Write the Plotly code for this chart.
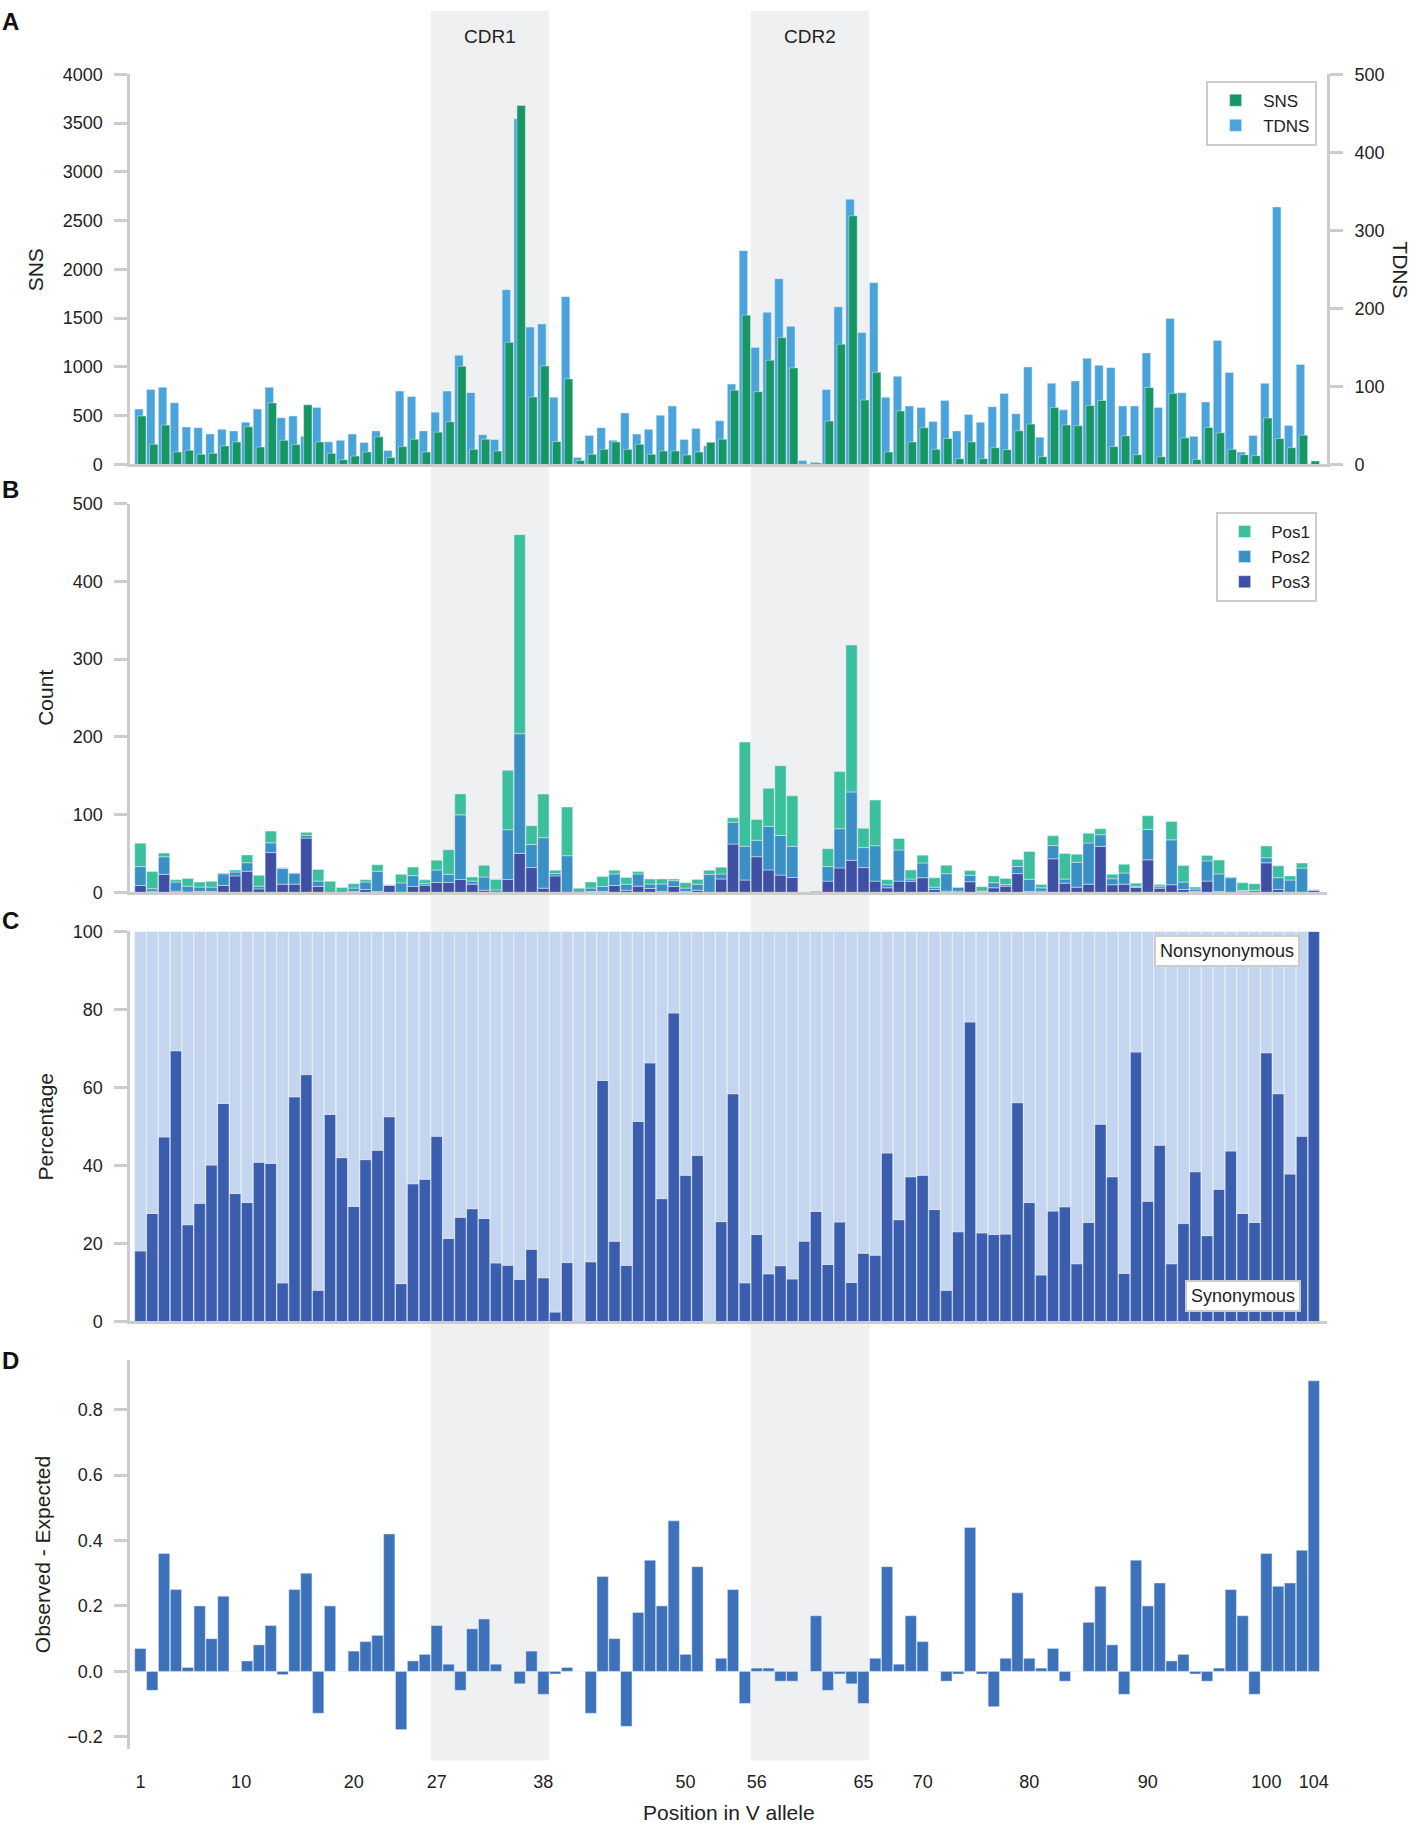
import numpy as np
import plotly.graph_objects as go

# IMGT positions present in the allele (gaps at 10, 32, 33 and 73)
imgt = list(range(1, 10)) + list(range(11, 32)) + list(range(34, 73)) + list(range(74, 105))

# panel A
sns = [497, 207, 404, 128, 145, 104, 114, 190, 231, 386,
       179, 631, 248, 204, 611, 231, 114, 48, 86, 128,
       283, 72, 183, 259, 128, 331, 438, 1007, 155, 259,
       138, 1252, 3680, 692, 1010, 235, 877, 41, 104, 155,
       231, 155, 207, 104, 138, 138, 97, 128, 228, 259,
       762, 1531, 746, 1069, 1301, 990, 0, 14, 445, 1233,
       2549, 661, 945, 128, 549, 231, 376, 155, 266, 59,
       231, 59, 172, 152, 345, 414, 79, 583, 404, 397,
       604, 656, 183, 293, 100, 790, 79, 729, 273, 52,
       380, 324, 155, 100, 90, 476, 266, 172, 300, 35]
tdns = [71, 96, 99, 79, 48, 47, 39, 45, 43, 54,
        71, 99, 60, 62, 36, 73, 29, 31, 39, 28,
        43, 18, 94, 87, 43, 67, 94, 140, 92, 38,
        32, 224, 443, 176, 180, 86, 215, 9, 37, 47,
        31, 66, 39, 45, 63, 75, 32, 46, 24, 56,
        103, 274, 150, 195, 238, 177, 5, 3, 96, 202,
        340, 169, 233, 86, 113, 75, 73, 55, 82, 43,
        64, 54, 74, 91, 65, 125, 35, 104, 70, 107,
        136, 127, 124, 75, 75, 143, 73, 187, 92, 36,
        80, 159, 118, 16, 37, 104, 330, 50, 128, 1]

# panel B, counts by codon position
pos1 = [30, 22, 4.8, 3, 10, 6.5, 7.4, 1, 2.6, 10,
        14, 15, 1, 0, 3.9, 14.8, 14, 6, 5.7, 3,
        8.3, 0, 11, 11, 4.3, 12.6, 31.7, 27, 5.2, 15,
        13.5, 76.5, 256, 24.3, 56, 4.3, 62.6, 5.2, 7.8, 12.6,
        4.8, 8.7, 3, 6.5, 6.5, 2.2, 7, 6.1, 5.2, 8.7,
        5.7, 134, 27, 49, 89.6, 65, 0, 1.3, 23, 73.5,
        189, 24.8, 58.7, 6.5, 14.8, 11.7, 10, 12, 10.9, 0,
        6, 5.7, 8.7, 7.8, 9, 35.7, 4.3, 12.6, 33, 10.4,
        12.6, 7.8, 5.7, 11.3, 4, 17.8, 2.2, 23.5, 21.3, 2.6,
        7, 17.8, 1, 10, 8.3, 15.2, 15.2, 5.2, 6.5, 0]
pos2 = [24.3, 3.5, 22.6, 11.7, 7.4, 5.6, 5.6, 15, 5, 11,
        3.5, 12.6, 20, 14.3, 3.5, 7, 0, 0, 4.3, 9.6,
        26, 1, 12, 14, 2.6, 16, 10.4, 83, 4, 17,
        3, 64, 154, 29.6, 65, 3, 47, 0, 4.3, 6.5,
        14.8, 7.8, 15.7, 5.7, 9.6, 7.4, 4.3, 7.8, 23, 6.5,
        28, 43.5, 21, 56, 51, 40, 0, 0, 18.7, 50.4,
        88, 25.7, 45.6, 3.9, 40, 3, 19, 3, 22.6, 5.2,
        8.3, 0.4, 6.5, 2.2, 9, 15.7, 4.3, 17, 5.2, 32,
        53, 15, 7.8, 14.3, 1.7, 39, 2.6, 57.8, 9.6, 3,
        26, 22.6, 18.7, 1.3, 2.6, 6.5, 15.2, 15.7, 31, 1.3]
pos3 = [8.7, 1, 23, 1.3, 0.4, 1, 1, 8.7, 21, 27,
        4.3, 51, 10.4, 10.4, 69.6, 7.4, 0, 0, 1, 3.5,
        1, 8.7, 0, 7.4, 9, 12.6, 12.6, 16.5, 10.4, 2.6,
        0, 16.5, 50, 31.7, 5.2, 21, 0, 0, 1, 1,
        8.7, 2.6, 7.8, 4.8, 1, 7.4, 1, 2.6, 0, 17,
        62, 15.7, 45.7, 28.7, 22, 19, 0, 0, 14.3, 31.3,
        41, 31.7, 14.3, 5.7, 14.3, 14, 18.7, 3.5, 1.3, 1.3,
        13.5, 1, 5.7, 7.8, 24, 1, 1.3, 43, 11.7, 6.5,
        10.4, 59, 9.6, 10.4, 6, 41.7, 5.2, 9.6, 3.5, 1,
        14.3, 1, 0, 1, 0, 37.8, 3.5, 0, 0, 2.2]

# panel C, percentage synonymous
syn_pct = [18.1, 27.7, 47.3, 69.4, 24.8, 30.3, 40.1, 55.9, 32.8, 30.5,
           40.8, 40.5, 9.9, 57.6, 63.3, 8.0, 53.1, 42.0, 29.5, 41.5,
           43.9, 52.5, 9.7, 35.3, 36.5, 47.5, 21.3, 26.7, 28.9, 26.4,
           15.0, 14.4, 10.8, 18.5, 11.2, 2.4, 15.1, 0, 15.3, 61.8,
           20.6, 14.4, 51.3, 66.3, 31.5, 79.1, 37.5, 42.6, 0, 25.6,
           58.4, 9.9, 22.3, 12.2, 14.3, 10.9, 20.6, 28.2, 14.6, 25.5,
           10.0, 17.5, 17.0, 43.2, 26.1, 37.1, 37.5, 28.7, 8.0, 23.0,
           76.8, 22.7, 22.3, 22.4, 56.1, 30.5, 11.9, 28.3, 29.4, 14.8,
           25.4, 50.6, 37.1, 12.3, 69.1, 30.8, 45.2, 14.8, 25.1, 38.4,
           22.0, 33.9, 43.7, 27.7, 25.4, 68.9, 58.4, 37.8, 47.5, 100]
nonsyn_pct = [100 - v for v in syn_pct]

# panel D
obs_minus_exp = [0.07, -0.058, 0.36, 0.25, 0.012, 0.20, 0.10, 0.23, 0, 0.032,
                 0.081, 0.14, -0.01, 0.25, 0.30, -0.128, 0.20, 0, 0.062, 0.091,
                 0.11, 0.42, -0.178, 0.032, 0.052, 0.14, 0.022, -0.058, 0.13, 0.16,
                 0.022, 0, -0.038, 0.062, -0.07, -0.008, 0.012, 0, -0.128, 0.29,
                 0.10, -0.168, 0.18, 0.34, 0.20, 0.46, 0.052, 0.32, 0, 0.04,
                 0.25, -0.098, 0.01, 0.01, -0.03, -0.03, 0, 0.17, -0.058, -0.008,
                 -0.038, -0.098, 0.04, 0.32, 0.022, 0.17, 0.091, 0, -0.03, -0.008,
                 0.44, -0.008, -0.108, 0.04, 0.24, 0.04, 0.01, 0.07, -0.03, 0,
                 0.15, 0.26, 0.081, -0.07, 0.34, 0.20, 0.27, 0.032, 0.052, -0.008,
                 -0.03, 0.01, 0.25, 0.17, -0.07, 0.36, 0.26, 0.27, 0.37, 0.888]

tick_labels = [1, 10, 20, 27, 38, 50, 56, 65, 70, 80, 90, 100, 104]
cdrs = [("CDR1", 27, 38), ("CDR2", 56, 65)]

W, H = 1417, 1825
FONT = "Arial, Liberation Sans, Helvetica, sans-serif"
GRAY = "#cccccc"

idx = np.arange(1, len(imgt) + 1)
tick_pos = np.interp(tick_labels, imgt, idx)


def ydom(top, bottom):
    return [1 - bottom / H, 1 - top / H]


def ypx(p):
    return 1 - p / H


fig = go.Figure()

# A: TDNS on base axis (drawn under), SNS on the overlaying left axis
fig.add_trace(go.Bar(x=idx, y=tdns, name="TDNS", xaxis="x", yaxis="y",
                     marker_color="#48a4db", width=0.71, offset=-0.48,
                     legend="legend", legendrank=2))
fig.add_trace(go.Bar(x=idx, y=sns, name="SNS", xaxis="x", yaxis="y5",
                     marker_color="#159663", width=0.71, offset=-0.23,
                     legend="legend", legendrank=1))

# B
for name, vals, col, rank in [("Pos3", pos3, "#3e4fa4", 3),
                              ("Pos2", pos2, "#3a90c4", 2),
                              ("Pos1", pos1, "#3cbf9d", 1)]:
    fig.add_trace(go.Bar(x=idx, y=vals, name=name, xaxis="x2", yaxis="y2",
                         marker_color=col, legend="legend2", legendrank=rank))

# C
fig.add_trace(go.Bar(x=idx, y=syn_pct, name="Synonymous", xaxis="x3", yaxis="y3",
                     marker_color="#3a5dad", showlegend=False))
fig.add_trace(go.Bar(x=idx, y=nonsyn_pct, name="Nonsynonymous", xaxis="x3", yaxis="y3",
                     marker_color="#c3d5ef", showlegend=False))

# D
fig.add_trace(go.Bar(x=idx, y=obs_minus_exp, name="Observed - Expected",
                     xaxis="x4", yaxis="y4", marker_color="#3d71ba", showlegend=False))

xdom = [130.5 / W, 1328.7 / W]
xrange = [0.15, 101.1]
tickfont = dict(family=FONT, size=18, color="#222")


def xax(anchor, line=True, **kw):
    d = dict(domain=xdom, range=xrange, anchor=anchor, showgrid=False, zeroline=False,
             showline=line, linecolor=GRAY, linewidth=3, ticks="", showticklabels=False)
    d.update(kw)
    return d


def yax(dom, rng, dtick, **kw):
    d = dict(domain=dom, range=rng, dtick=dtick, showgrid=False, zeroline=False,
             showline=True, linecolor=GRAY, linewidth=3, ticks="outside", ticklen=13,
             tickwidth=3, tickcolor=GRAY, tickfont=tickfont, ticklabelstandoff=8)
    d.update(kw)
    return d


domA = ydom(65, 459.5)
domB = ydom(499, 892)
domC = ydom(931.7, 1326)
domD = ydom(1364.5, 1758.2)

legend_style = dict(xanchor="right", yanchor="top", bordercolor=GRAY, borderwidth=2,
                    bgcolor="white", font=dict(family=FONT, size=17, color="#222"),
                    traceorder="normal")

fig.update_layout(
    width=W, height=H, margin=dict(l=0, r=0, t=0, b=0), autosize=False,
    paper_bgcolor="white", plot_bgcolor="rgba(0,0,0,0)",
    barmode="relative", bargap=0.05,
    font=dict(family=FONT, color="#222"),
    xaxis=xax("y"),
    xaxis2=xax("y2", matches="x"),
    xaxis3=xax("y3", matches="x"),
    xaxis4=xax("y4", line=False, matches="x", showticklabels=True, tickmode="array",
               tickvals=list(tick_pos), ticktext=[str(t) for t in tick_labels],
               tickfont=tickfont, ticklabelstandoff=20),
    yaxis=yax(domA, [0, 500], 100, side="right", anchor="x"),
    yaxis5=yax(domA, [0, 4000], 500, side="left", anchor="x", overlaying="y"),
    yaxis2=yax(domB, [0, 500], 100, anchor="x2"),
    yaxis3=yax(domC, [0, 100], 20, anchor="x3"),
    yaxis4=yax(domD, [-0.237, 0.953], None, anchor="x4", tickmode="array",
               tickvals=[-0.2, 0, 0.2, 0.4, 0.6, 0.8], tickformat=".1f"),
    legend=dict(x=1319 / W, y=ypx(71.5), itemwidth=45, **legend_style),
    legend2=dict(x=1319 / W, y=ypx(507.5), itemwidth=43, **legend_style),
)

# CDR shading and labels
for label, a, b in cdrs:
    x0 = np.interp(a, imgt, idx) - 0.5
    x1 = np.interp(b, imgt, idx) + 0.5
    fig.add_shape(type="rect", xref="x", yref="paper", x0=x0, x1=x1,
                  y0=ypx(1770), y1=ypx(1), fillcolor="#eff0f2",
                  line_width=0, layer="below")
    fig.add_annotation(x=(x0 + x1) / 2, xref="x", y=ypx(26.6), yref="paper",
                       xanchor="center", yanchor="middle",
                       text=label, showarrow=False, font=dict(size=19))

# panel letters
for letter, yp in [("A", 11.6), ("B", 484.5), ("C", 920.4), ("D", 1365)]:
    fig.add_annotation(x=0, xref="paper", xanchor="left", y=ypx(yp), yref="paper",
                       yanchor="middle", text="<b>%s</b>" % letter, showarrow=False,
                       font=dict(size=24, color="#111"))

# axis titles
for text, xp, dom, ang in [("SNS", 35, domA, -90), ("Count", 46, domB, -90),
                           ("Percentage", 46, domC, -90),
                           ("Observed - Expected", 42, domD, -90),
                           ("TDNS", 1403, domA, 90)]:
    fig.add_annotation(x=xp / W, xref="paper", xanchor="center",
                       y=sum(dom) / 2, yref="paper", yanchor="middle",
                       text=text, textangle=ang, showarrow=False, font=dict(size=21))

fig.add_annotation(x=sum(xdom) / 2, xref="paper", xanchor="center",
                   y=ypx(1822), yref="paper", yanchor="middle",
                   text="Position in V allele", showarrow=False, font=dict(size=21))

# C region labels
fig.add_annotation(x=1302 / W, xref="paper", xanchor="right", y=ypx(935.6), yref="paper",
                   yanchor="top", text="Nonsynonymous", showarrow=False,
                   font=dict(size=18), bgcolor="white", bordercolor=GRAY,
                   borderwidth=2, borderpad=4)
fig.add_annotation(x=1303 / W, xref="paper", xanchor="right", y=ypx(1316), yref="paper",
                   yanchor="bottom", text="Synonymous", showarrow=False,
                   font=dict(size=18), bgcolor="white", bordercolor=GRAY,
                   borderwidth=2, borderpad=4)

fig.write_html("out.html", config={"displayModeBar": False},
               post_script="document.body.style.margin='0';")
